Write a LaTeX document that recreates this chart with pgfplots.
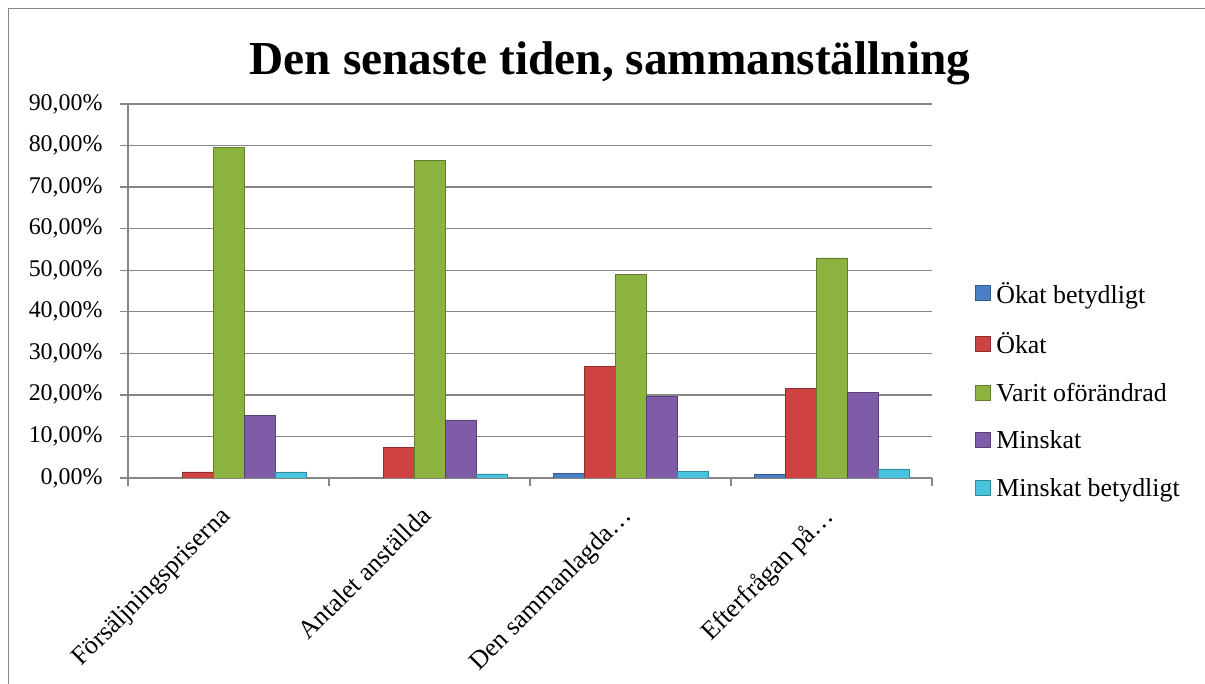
\documentclass[border=0pt]{standalone}
\usepackage{pgfplots}
\pgfplotsset{compat=1.18}
\usepackage{fontspec}
\setmainfont{Liberation Serif}
\definecolor{cBlue}{HTML}{4A7FC6}
\definecolor{cRed}{HTML}{CE4242}
\definecolor{cGreen}{HTML}{8CB240}
\definecolor{cPurple}{HTML}{7F5CA8}
\definecolor{cCyan}{HTML}{48C4DE}
\definecolor{axgray}{HTML}{868686}
\pgfplotsset{
  barsty/.style={fill=#1, draw=#1!70!black, line width=0.5bp},
}
\begin{document}
\begin{tikzpicture}[x=1bp,y=1bp]
\useasboundingbox (0,0) rectangle (1205,684);
\draw[axgray, line width=1.3bp] (8.5,-20) -- (8.5,675.5) -- (1230,675.5);
\node[anchor=base, font=\fontsize{47.5}{56}\selectfont\bfseries] at (610,609) {Den senaste tiden, sammanställning};
\begin{axis}[
  at={(128bp,206bp)}, anchor=south west,
  scale only axis, width=804bp, height=374bp,
  xmin=-0.5, xmax=3.5, ymin=0, ymax=90,
  ytick={0,10,...,90},
  xtick={0,1,2,3},
  xticklabels={Försäljningspriserna, Antalet anställda, Den sammanlagda…, Efterfrågan på…},
  x tick label style={rotate=45, anchor=north east, font=\fontsize{26}{30}\selectfont, inner sep=1bp, xshift=-19bp, yshift=-5bp},
  y tick label style={font=\fontsize{24}{28}\selectfont, xshift=-14bp},
  yticklabel={\pgfmathprintnumber[fixed,fixed zerofill,precision=2,use comma,assume math mode=true]{\tick}\%},
  axis x line*=bottom, axis y line*=left,
  axis line style={axgray, line width=1.3bp},
  tick align=outside,
  major tick length=8bp,
  x tick style={draw=none},
  y tick style={axgray, line width=1.3bp},
  extra x ticks={-0.5,0.5,1.5,2.5,3.5},
  extra x tick labels={},
  extra x tick style={grid=none, x tick style={draw=axgray, line width=1.3bp}},
  ymajorgrids, grid style={axgray, line width=1.3bp},
  ybar=0pt, bar width=31bp,
  legend style={at={(1.053,0.235)}, anchor=west, draw=none, fill=none, font=\fontsize{26}{30}\selectfont, row sep=24bp, inner sep=0pt, nodes={inner xsep=6bp}},
  legend cell align=left,
  legend image code/.code={\path[#1] (0bp,-7bp) rectangle (15bp,8bp);},
]
\addplot[barsty=cBlue] coordinates {(0,0) (1,0) (2,1.1) (3,0.9)};
\addplot[barsty=cRed] coordinates {(0,1.5) (1,7.3) (2,26.8) (3,21.6)};
\addplot[barsty=cGreen] coordinates {(0,79.5) (1,76.5) (2,49.0) (3,53.0)};
\addplot[barsty=cPurple] coordinates {(0,15.0) (1,14.0) (2,19.7) (3,20.6)};
\addplot[barsty=cCyan] coordinates {(0,1.5) (1,1.0) (2,1.6) (3,2.2)};
\legend{Ökat betydligt, Ökat, Varit oförändrad, Minskat, Minskat betydligt}
\end{axis}
\end{tikzpicture}
\end{document}
